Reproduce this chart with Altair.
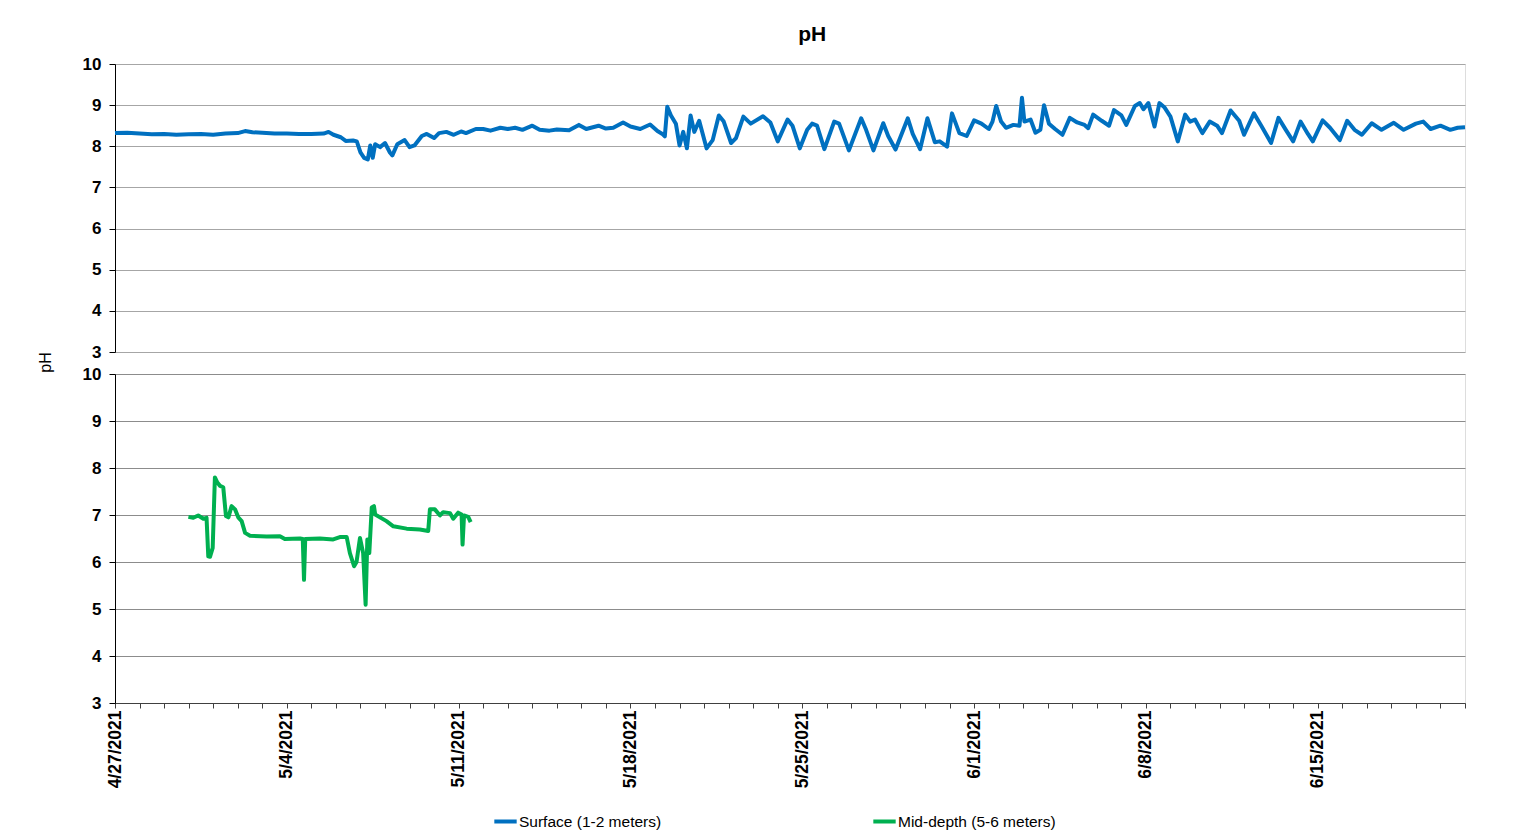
import altair as alt
import pandas as pd

# ---- data ----
start_date = "2021-04-27"
end_date = "2021-06-21"

# Surface (1-2 meters): day offset from 4/27/2021, pH
surface_day = [0.0, 0.5, 1.0, 1.5, 2.0, 2.5, 3.0, 3.5, 4.0, 4.5, 5.0, 5.3, 5.6, 6.0, 6.5, 7.0, 7.5, 8.0, 8.5, 8.7,
               8.9, 9.2, 9.4, 9.7, 9.85, 10.0, 10.15, 10.3, 10.4, 10.5, 10.6, 10.8, 11.0, 11.2, 11.3, 11.5, 11.8, 12.0,
               12.2, 12.5, 12.7, 13.0, 13.2, 13.5, 13.8, 14.1, 14.3, 14.7, 15.0, 15.3, 15.7, 16.0, 16.3, 16.6, 17.0,
               17.3, 17.7, 18.0, 18.5, 18.9, 19.2, 19.7, 20.0, 20.3, 20.7, 21.0, 21.4, 21.8, 22.1, 22.3, 22.4, 22.5,
               22.65, 22.85, 23.0, 23.15, 23.3, 23.45, 23.6, 23.8, 24.1, 24.35, 24.6, 24.8, 25.1, 25.3, 25.6, 25.9,
               26.4, 26.7, 27.0, 27.4, 27.6, 27.9, 28.2, 28.4, 28.6, 28.9, 29.3, 29.5, 29.9, 30.4, 30.6, 30.9, 31.3,
               31.5, 31.8, 32.3, 32.5, 32.8, 33.1, 33.4, 33.6, 33.9, 34.1, 34.4, 34.7, 35.0, 35.3, 35.6, 35.75, 35.9,
               36.1, 36.3, 36.6, 36.85, 36.95, 37.05, 37.3, 37.5, 37.7, 37.85, 38.05, 38.3, 38.6, 38.9, 39.2, 39.5,
               39.65, 39.85, 40.2, 40.5, 40.7, 41.0, 41.2, 41.55, 41.75, 41.9, 42.1, 42.35, 42.55, 42.75, 43.0, 43.3,
               43.6, 43.8, 44.0, 44.3, 44.6, 44.9, 45.1, 45.45, 45.8, 46.0, 46.4, 46.7, 47.1, 47.4, 47.7, 48.0, 48.3,
               48.6, 48.8, 49.2, 49.5, 49.9, 50.2, 50.5, 50.8, 51.2, 51.6, 52.1, 52.5, 53.0, 53.3, 53.6, 54.0, 54.4,
               54.7, 55.0]
surface_ph = [8.32, 8.33, 8.31, 8.29, 8.30, 8.28, 8.29, 8.30, 8.28, 8.31, 8.32, 8.37, 8.34, 8.33, 8.31, 8.31, 8.30,
              8.30, 8.31, 8.35, 8.28, 8.22, 8.13, 8.14, 8.12, 7.85, 7.72, 7.68, 8.02, 7.72, 8.05, 7.98, 8.08, 7.85,
              7.78, 8.05, 8.15, 7.98, 8.02, 8.25, 8.30, 8.20, 8.32, 8.35, 8.28, 8.36, 8.32, 8.42, 8.42, 8.38, 8.45,
              8.42, 8.45, 8.40, 8.50, 8.40, 8.38, 8.41, 8.39, 8.52, 8.42, 8.50, 8.43, 8.45, 8.58, 8.48, 8.42, 8.53,
              8.37, 8.30, 8.24, 8.96, 8.75, 8.55, 8.02, 8.35, 7.95, 8.75, 8.35, 8.62, 7.95, 8.15, 8.75, 8.60, 8.08,
              8.20, 8.72, 8.55, 8.73, 8.58, 8.12, 8.65, 8.50, 7.95, 8.40, 8.55, 8.50, 7.93, 8.60, 8.55, 7.90, 8.68,
              8.40, 7.90, 8.56, 8.25, 7.92, 8.68, 8.30, 7.93, 8.68, 8.10, 8.12, 7.99, 8.80, 8.32, 8.25, 8.63, 8.55,
              8.42, 8.60, 8.98, 8.60, 8.45, 8.52, 8.50, 9.18, 8.60, 8.65, 8.33, 8.40, 9.00, 8.55, 8.42, 8.28, 8.69,
              8.58, 8.52, 8.44, 8.77, 8.62, 8.50, 8.88, 8.75, 8.52, 8.98, 9.05, 8.90, 9.05, 8.48, 9.05, 8.95, 8.72,
              8.12, 8.77, 8.60, 8.65, 8.32, 8.60, 8.50, 8.32, 8.87, 8.62, 8.28, 8.80, 8.50, 8.08, 8.69, 8.40, 8.12,
              8.60, 8.30, 8.12, 8.63, 8.45, 8.15, 8.62, 8.40, 8.28, 8.56, 8.40, 8.57, 8.40, 8.55, 8.60, 8.42, 8.50,
              8.40, 8.45, 8.46]

# Mid-depth (5-6 meters)
mid_day = [2.99, 3.19, 3.39, 3.6, 3.73, 3.8, 3.87, 3.98, 4.07, 4.17, 4.28, 4.41, 4.52, 4.62, 4.75, 4.89, 5.02, 5.16,
           5.3, 5.5, 6.18, 6.72, 6.92, 7.54, 7.65, 7.7, 7.75, 8.35, 8.89, 9.16, 9.44, 9.57, 9.74, 9.84, 9.98, 10.11,
           10.21, 10.28, 10.36, 10.46, 10.55, 10.6, 11.06, 11.34, 11.88, 12.42, 12.76, 12.83, 13.03, 13.24, 13.37,
           13.65, 13.78, 13.98, 14.12, 14.16, 14.22, 14.39, 14.49]
mid_ph = [6.96, 6.94, 6.99, 6.92, 6.94, 6.12, 6.11, 6.30, 7.80, 7.69, 7.62, 7.59, 6.98, 6.95, 7.19, 7.12, 6.95, 6.87,
          6.62, 6.56, 6.54, 6.55, 6.49, 6.50, 6.49, 5.62, 6.49, 6.50, 6.48, 6.53, 6.53, 6.19, 5.91, 6.00, 6.51, 6.19,
          5.09, 6.48, 6.19, 7.16, 7.19, 7.01, 6.87, 6.76, 6.71, 6.69, 6.66, 7.12, 7.12, 6.99, 7.06, 7.04, 6.92, 7.05,
          7.01, 6.37, 6.99, 6.96, 6.85]

series_names = ["Surface (1-2 meters)", "Mid-depth (5-6 meters)"]
series_colors = ["#0070C0", "#00B050"]
y_ticks = [3, 4, 5, 6, 7, 8, 9, 10]

# ---- build tables ----
DAY_MS = 86400000
t0 = int(pd.Timestamp(start_date, tz="UTC").value // 10**6)
t_end = int(pd.Timestamp(end_date, tz="UTC").value // 10**6)

surf = pd.DataFrame({"t": [t0 + d * DAY_MS for d in surface_day], "ph": surface_ph, "series": series_names[0]})
mid = pd.DataFrame({"t": [t0 + d * DAY_MS for d in mid_day], "ph": mid_ph, "series": series_names[1]})

day_ticks = [t0 + i * DAY_MS for i in range(0, 56)]
label_expr = (f"((datum.value - {t0}) % {7 * DAY_MS} == 0) ? "
              "utcFormat(datum.value, '%-m/%-d/%Y') : ''")

FONT = "Liberation Sans"
W = 1350

color = alt.Color("series:N",
                  scale=alt.Scale(domain=series_names, range=series_colors),
                  legend=alt.Legend(title=None, orient="none", direction="horizontal",
                                    legendX=377, legendY=744,
                                    symbolType="stroke", symbolStrokeWidth=4, symbolSize=500,
                                    labelFont=FONT, labelFontSize=15.5, labelColor="#000000",
                                    columnPadding=203, labelOffset=0))

x_top = alt.X("t:T", scale=alt.Scale(type="utc", domain=[t0, t_end]), axis=None)
x_bot = alt.X("t:T", scale=alt.Scale(type="utc", domain=[t0, t_end]),
              axis=alt.Axis(values=day_ticks, labelExpr=label_expr, labelAngle=270,
                            labelOverlap=False, labelFont=FONT, labelFontSize=17.5,
                            labelFontWeight="bold", labelColor="#000000", labelPadding=2,
                            tickSize=5, tickColor="#404040", domainColor="#404040",
                            grid=False, title=None))

top = alt.Chart(surf).mark_line(strokeWidth=4, strokeJoin="round").encode(
    x=x_top,
    y=alt.Y("ph:Q", scale=alt.Scale(domain=[3, 10], nice=False, zero=False),
            axis=alt.Axis(values=y_ticks, title="pH", titleFont=FONT, titleFontSize=16,
                          titleFontWeight="normal", titleColor="#000000",
                          titleAngle=270, titleX=-70, titleY=298, titleAlign="center",
                          titleBaseline="middle",
                          labelFont=FONT, labelFontSize=17, labelFontWeight="bold",
                          labelColor="#000000", labelPadding=8, tickSize=6,
                          tickColor="#000000", domainColor="#000000",
                          gridColor="#A6A6A6")),
    color=color,
).properties(width=W, height=288)

bottom = alt.Chart(mid).mark_line(strokeWidth=4, strokeJoin="round").encode(
    x=x_bot,
    y=alt.Y("ph:Q", scale=alt.Scale(domain=[3, 10], nice=False, zero=False),
            axis=alt.Axis(values=y_ticks, title=None,
                          labelFont=FONT, labelFontSize=17, labelFontWeight="bold",
                          labelColor="#000000", labelPadding=8, tickSize=6,
                          tickColor="#000000", domainColor="#000000",
                          gridColor="#8C8C8C")),
    color=color,
).properties(width=W, height=329)

chart = alt.vconcat(top, bottom, spacing=22, bounds="flush").properties(
    title=alt.TitleParams("pH", font=FONT, fontSize=21, fontWeight="bold", color="#000000",
                          anchor="middle", dx=57, offset=10),
    padding={"left": 28, "top": 15, "right": 30, "bottom": 10},
).configure_view(stroke="#A6A6A6").configure(background="white")

chart.save("out.html", embed_options={"renderer": "svg", "actions": False})
